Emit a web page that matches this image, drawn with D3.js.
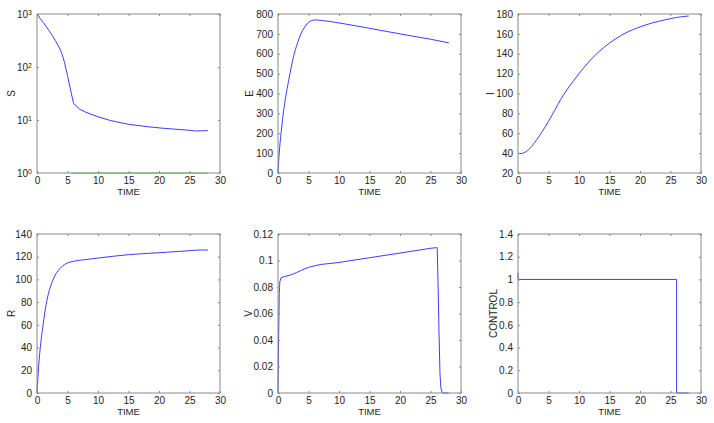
<!DOCTYPE html>
<html>
<head>
<meta charset="utf-8">
<script src="https://cdn.jsdelivr.net/npm/d3@7"></script>
<style>
  body { margin: 0; background: #fff; }
  svg { display: block; font-family: "Liberation Sans", Arial, sans-serif; }
  .frame { fill: none; stroke: #8a8a8a; stroke-width: 1; }
  .axis path { stroke: #8a8a8a; }
  .axis line { stroke: #8a8a8a; }
  .axis text { fill: #1e1e1e; font-size: 10px; }
  .lbl { fill: #1e1e1e; font-size: 10px; }
  .xlbl { fill: #1e1e1e; font-size: 9.5px; }
</style>
</head>
<body>
<div id="main_graph"></div>
<script>
'use strict';

// S (log scale) plus the flat green series along the bottom
const sTime = [0, 0.5, 1, 1.5, 2, 2.5, 3, 3.5, 4, 4.5, 5, 5.5, 6, 7, 8, 10, 12, 15, 18, 20, 22, 25, 26, 27, 28]
const sVals = [1000, 832, 700, 582, 481, 394, 316, 251, 190, 123, 69, 37, 20.5, 16, 14, 11.5, 9.8, 8.3, 7.5, 7.1, 6.8, 6.4, 6.2, 6.25, 6.3]
const gTime = [5.6, 28]
const gVals = [1, 1]

const eTime = [0, 0.2, 0.5, 1, 1.5, 2, 2.5, 3, 3.5, 4, 4.5, 5, 5.5, 6, 7, 10, 15, 20, 25, 28]
const eVals = [0, 100, 200, 330, 425, 505, 580, 635, 680, 715, 740, 758, 767, 770, 768, 755, 728, 700, 673, 655]

const iTime = [0, 0.5, 1, 2, 3, 4, 5, 6, 7, 8, 9, 10, 12, 14, 16, 18, 20, 22, 24, 26, 28]
const iVals = [40, 39.5, 40.5, 45, 53, 62, 72, 83, 94, 103.5, 112, 120, 134.5, 146, 155, 162, 167, 171, 174, 176.5, 178]

const rTime = [0, 0.25, 0.5, 1, 1.5, 2, 2.5, 3, 3.5, 4, 4.5, 5, 6, 8, 10, 15, 20, 25, 27, 28]
const rVals = [0, 22, 38, 60, 78, 90, 98, 104, 108, 111, 113, 114.5, 116, 117.5, 118.8, 121.8, 123.5, 125.3, 126, 125.8]

const vTime = [0, 0.1, 0.2, 0.3, 0.5, 1, 2, 3, 4, 5, 6, 7, 10, 15, 20, 25, 26, 26.1, 26.25, 26.4, 26.55, 26.7, 26.9, 27, 28]
const vVals = [0, 0.04, 0.075, 0.084, 0.087, 0.0878, 0.089, 0.0908, 0.093, 0.0948, 0.096, 0.097, 0.0985, 0.1021, 0.1056, 0.1092, 0.1097, 0.1098, 0.08, 0.045, 0.015, 0.004, 0.0005, 0, 0]

const cTime = [0, 0, 26, 26, 28]
const cVals = [1.06, 1, 1, 0, 0]

const timeTicks = [0, 5, 10, 15, 20, 25, 30]

const W = 714, H = 423
const colLeft = [37, 278, 518]
const rowTop  = [14, 234]
const pw = 183, ph = 159
const blue = '#3c3cff', green = '#5cb85c'

const zip = (xs, ys) => xs.map((x, i) => [x, ys[i]])

// labelX: horizontal centre of the rotated y label, relative to the left axis
const panels = [
  { label: 'S', col: 0, row: 0, labelX: -26, log: true, domain: [1, 1000], ticks: [1, 10, 100, 1000],
    series: [{ pts: zip(sTime, sVals), color: blue }, { pts: zip(gTime, gVals), color: green }] },
  { label: 'E', col: 1, row: 0, labelX: -29, domain: [0, 800], ticks: d3.range(0, 801, 100), smooth: true,
    series: [{ pts: zip(eTime, eVals), color: blue }] },
  { label: 'I', col: 2, row: 0, labelX: -28, domain: [20, 180], ticks: d3.range(20, 181, 20), smooth: true,
    series: [{ pts: zip(iTime, iVals), color: blue }] },
  { label: 'R', col: 0, row: 1, labelX: -26, domain: [0, 140], ticks: d3.range(0, 141, 20), smooth: true,
    series: [{ pts: zip(rTime, rVals), color: blue }] },
  { label: 'V', col: 1, row: 1, labelX: -30, domain: [0, 0.12], ticks: [0, 0.02, 0.04, 0.06, 0.08, 0.1, 0.12],
    series: [{ pts: zip(vTime, vVals), color: blue }] },
  { label: 'CONTROL', col: 2, row: 1, labelX: -25, domain: [0, 1.4], ticks: [0, 0.2, 0.4, 0.6, 0.8, 1, 1.2, 1.4],
    series: [{ pts: zip(cTime, cVals), color: blue }] }
]

const svg = d3.select('#main_graph').append('svg')
  .attr('width', W).attr('height', H)

const numFmt = (d) => String(+d.toFixed(4))

panels.forEach((p) => {
  const left = colLeft[p.col], top = rowTop[p.row]
  const g = svg.append('g').attr('transform', `translate(${left},${top})`)

  const x = d3.scaleLinear().domain([0, 30]).range([0, pw])
  const y = (p.log ? d3.scaleLog() : d3.scaleLinear()).domain(p.domain).range([ph, 0])

  const line = d3.line()
    .x((d) => x(d[0]))
    .y((d) => y(d[1]))
    .curve(p.smooth ? d3.curveMonotoneX : d3.curveLinear)

  const drawSeries = (s) => g.append('path')
    .attr('d', line(s.pts))
    .attr('fill', 'none')
    .attr('stroke', s.color)
    .attr('stroke-width', 1)

  // main series under the frame, any extra series (green) over it
  drawSeries(p.series[0])

  g.append('rect').attr('class', 'frame')
    .attr('x', 0).attr('y', 0).attr('width', pw).attr('height', ph)

  const xb = g.append('g').attr('class', 'axis')
    .attr('transform', `translate(0,${ph})`)
    .call(d3.axisBottom(x).tickValues(timeTicks).tickSizeInner(-2).tickSizeOuter(0).tickPadding(4))
  const xt = g.append('g').attr('class', 'axis')
    .call(d3.axisTop(x).tickValues(timeTicks).tickSizeInner(-2).tickSizeOuter(0).tickFormat(''))
  const yl = g.append('g').attr('class', 'axis')
    .call(d3.axisLeft(y).tickValues(p.ticks).tickSizeInner(-2).tickSizeOuter(0).tickPadding(5)
      .tickFormat(p.log ? () => '' : numFmt))
  const yr = g.append('g').attr('class', 'axis')
    .attr('transform', `translate(${pw},0)`)
    .call(d3.axisRight(y).tickValues(p.ticks).tickSizeInner(-2).tickSizeOuter(0).tickFormat(''))
  ;[xb, xt, yl, yr].forEach((a) => a.select('.domain').remove())

  if (p.log) {
    yl.selectAll('.tick text').each(function (d) {
      const t = d3.select(this)
      t.append('tspan').text('10')
      t.append('tspan').attr('dy', '-0.45em').style('font-size', '7px')
        .text(Math.round(Math.log10(d)))
    })
  }

  p.series.slice(1).forEach(drawSeries)

  g.append('text').attr('class', 'xlbl')
    .attr('x', pw / 2).attr('y', ph + 22)
    .attr('text-anchor', 'middle')
    .text('TIME')

  g.append('text').attr('class', 'lbl')
    .attr('transform', `translate(${p.labelX + 3.6},${ph / 2}) rotate(-90)`)
    .attr('text-anchor', 'middle')
    .text(p.label)
})
</script>
</body>
</html>
